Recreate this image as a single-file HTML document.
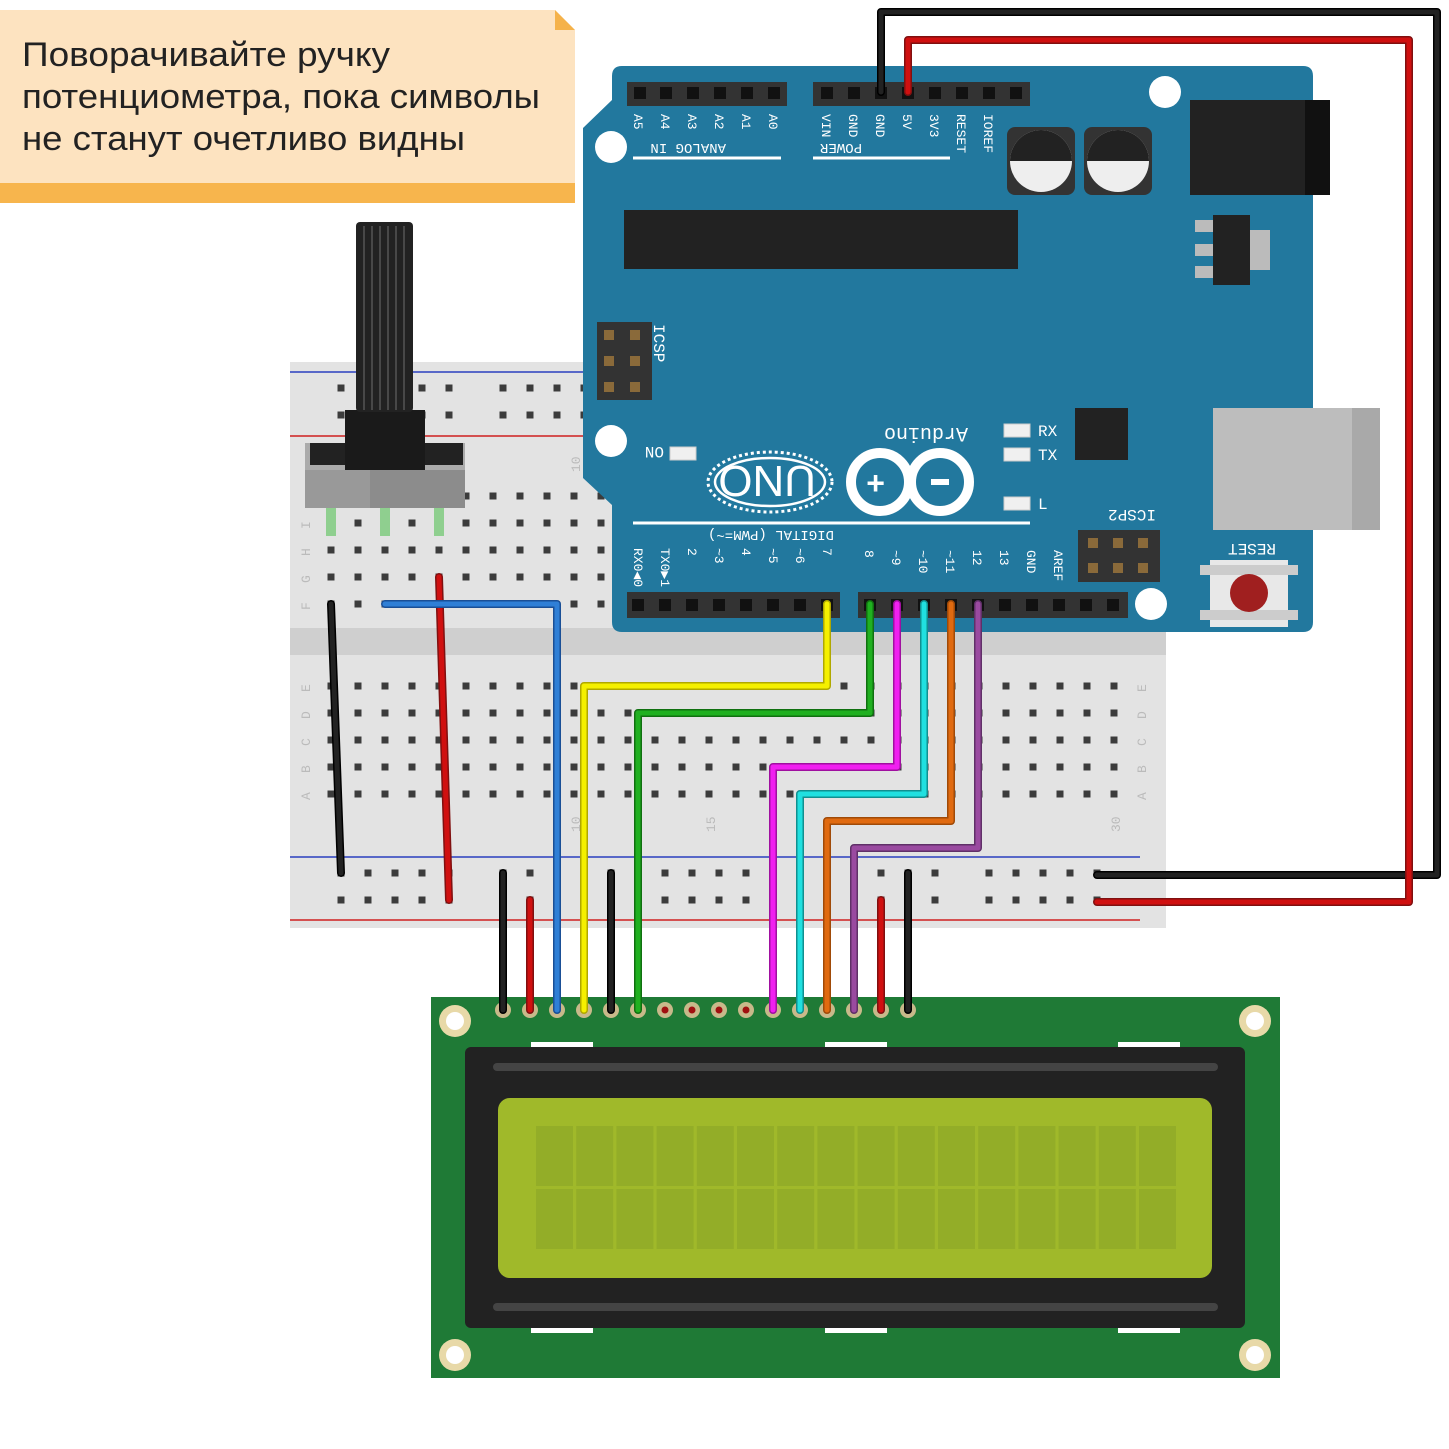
<!DOCTYPE html>
<html><head><meta charset="utf-8"><style>
html,body{margin:0;padding:0;background:#fff;width:1449px;height:1449px;overflow:hidden}
svg{display:block}
text{font-family:"Liberation Mono",monospace}
.n{font-family:"Liberation Sans","DejaVu Sans",sans-serif}
</style></head><body>
<svg id="s" width="1449" height="1449" viewBox="0 0 1449 1449" xmlns="http://www.w3.org/2000/svg">
<!-- note -->
<polygon points="0,10 555,10 575,30 575,203 0,203" fill="#fde3c0"/>
<polygon points="555,10 575,30 555,30" fill="#f5b24a"/>
<rect x="0" y="183" width="575" height="20" fill="#f7b54d"/>
<text class="n" x="22" y="66" font-size="34" fill="#222" textLength="368" lengthAdjust="spacingAndGlyphs">Поворачивайте ручку</text>
<text class="n" x="22" y="108" font-size="34" fill="#222" textLength="518" lengthAdjust="spacingAndGlyphs">потенциометра, пока символы</text>
<text class="n" x="22" y="150" font-size="34" fill="#222" textLength="443" lengthAdjust="spacingAndGlyphs">не станут очетливо видны</text>

<!-- breadboard -->
<rect x="290" y="362" width="876" height="566" fill="#e3e3e3"/>
<rect x="290" y="628" width="876" height="27" fill="#cfcfcf"/>
<line x1="290" y1="372" x2="1166" y2="372" stroke="#2a3fbf" stroke-width="1.5"/>
<line x1="290" y1="436" x2="1166" y2="436" stroke="#d02020" stroke-width="1.5"/>
<line x1="290" y1="857" x2="1140" y2="857" stroke="#2a3fbf" stroke-width="1.5"/>
<line x1="290" y1="920" x2="1140" y2="920" stroke="#d02020" stroke-width="1.5"/>
<g id="holes"></g>
<g font-size="13" fill="#bbb" class="n">
<text x="300" y="690" transform="rotate(-90 306 686)">E</text>
<text x="300" y="717" transform="rotate(-90 306 713)">D</text>
<text x="300" y="744" transform="rotate(-90 306 740)">C</text>
<text x="300" y="771" transform="rotate(-90 306 767)">B</text>
<text x="300" y="798" transform="rotate(-90 306 794)">A</text>
<text x="1136" y="690" transform="rotate(-90 1142 686)">E</text>
<text x="1136" y="717" transform="rotate(-90 1142 713)">D</text>
<text x="1136" y="744" transform="rotate(-90 1142 740)">C</text>
<text x="1136" y="771" transform="rotate(-90 1142 767)">B</text>
<text x="1136" y="798" transform="rotate(-90 1142 794)">A</text>
<text x="300" y="527" transform="rotate(-90 306 523)">I</text>
<text x="300" y="554" transform="rotate(-90 306 550)">H</text>
<text x="300" y="581" transform="rotate(-90 306 577)">G</text>
<text x="300" y="608" transform="rotate(-90 306 604)">F</text>
<text x="570" y="830" transform="rotate(-90 576 826)">10</text>
<text x="705" y="830" transform="rotate(-90 711 826)">15</text>
<text x="1110" y="830" transform="rotate(-90 1116 826)">30</text>
<text x="570" y="470" transform="rotate(-90 576 466)">10</text>
</g>

<!-- arduino -->
<path d="M622,66 H1303 Q1313,66 1313,76 V622 Q1313,632 1303,632 H622 Q612,632 612,622 V505 L583,478 V128 L612,100 V76 Q612,66 622,66 Z" fill="#22789e"/>
<rect x="627" y="82" width="160" height="24" fill="#333"/>
<rect x="813" y="82" width="217" height="24" fill="#333"/>
<rect x="627" y="592" width="213" height="26" fill="#333"/>
<rect x="858" y="592" width="270" height="26" fill="#333"/>
<g id="pins"></g>
<line x1="633" y1="158" x2="781" y2="158" stroke="#fff" stroke-width="3"/>
<line x1="813" y1="158" x2="950" y2="158" stroke="#fff" stroke-width="3"/>
<line x1="633" y1="523" x2="1030" y2="523" stroke="#fff" stroke-width="3"/>
<g fill="#fff" font-size="14">
<text x="634" y="152" transform="rotate(180 680 148)">ANALOG IN</text>
<text x="814" y="152" transform="rotate(180 838 148)">POWER</text>
<text x="690" y="541" transform="rotate(180 762 536)">DIGITAL (PWM=~)</text>
</g>
<g fill="#fff" font-size="13" id="plab"></g>
<circle cx="611" cy="147" r="16" fill="#fff"/>
<circle cx="1165" cy="92" r="16" fill="#fff"/>
<circle cx="611" cy="441" r="16" fill="#fff"/>
<circle cx="1151" cy="604" r="16" fill="#fff"/>
<rect x="624" y="210" width="394" height="59" fill="#222"/>
<rect x="1007" y="127" width="68" height="68" rx="8" fill="#333"/>
<circle cx="1041" cy="161" r="31" fill="#eee"/>
<path d="M1010,161 A31,31 0 0 1 1072,161 Z" fill="#222"/>
<rect x="1084" y="127" width="68" height="68" rx="8" fill="#333"/>
<circle cx="1118" cy="161" r="31" fill="#eee"/>
<path d="M1087,161 A31,31 0 0 1 1149,161 Z" fill="#222"/>
<rect x="1190" y="100" width="140" height="95" fill="#222"/>
<rect x="1305" y="100" width="25" height="95" fill="#111"/>
<rect x="1250" y="230" width="20" height="40" fill="#bbb"/>
<rect x="1195" y="220" width="20" height="12" fill="#bbb"/>
<rect x="1195" y="244" width="20" height="12" fill="#bbb"/>
<rect x="1195" y="266" width="20" height="12" fill="#bbb"/>
<rect x="1213" y="215" width="37" height="70" fill="#222"/>
<rect x="1213" y="408" width="167" height="122" fill="#bdbdbd"/>
<rect x="1352" y="408" width="28" height="122" fill="#a9a9a9"/>
<rect x="1075" y="408" width="53" height="52" fill="#222"/>
<rect x="1210" y="560" width="78" height="67" fill="#e8e8e8"/>
<rect x="1200" y="565" width="98" height="10" fill="#ccc"/>
<rect x="1200" y="610" width="98" height="10" fill="#ccc"/>
<circle cx="1249" cy="593" r="19" fill="#a01f1f"/>
<rect x="1078" y="530" width="82" height="52" fill="#333"/>
<rect x="597" y="322" width="55" height="78" fill="#333"/>
<g fill="#8a6a3a"><rect x="1088" y="538" width="10" height="10"/><rect x="1113" y="538" width="10" height="10"/><rect x="1138" y="538" width="10" height="10"/><rect x="1088" y="563" width="10" height="10"/><rect x="1113" y="563" width="10" height="10"/><rect x="1138" y="563" width="10" height="10"/>
<rect x="604" y="330" width="10" height="10"/><rect x="630" y="330" width="10" height="10"/><rect x="604" y="356" width="10" height="10"/><rect x="630" y="356" width="10" height="10"/><rect x="604" y="382" width="10" height="10"/><rect x="630" y="382" width="10" height="10"/></g>
<g fill="#f0f0f0" stroke="#ccc"><rect x="1004" y="424" width="26" height="13"/><rect x="1004" y="448" width="26" height="13"/><rect x="1004" y="497" width="26" height="13"/><rect x="670" y="447" width="26" height="13"/></g>
<g fill="#fff" font-size="16">
<text x="1038" y="436">RX</text><text x="1038" y="460">TX</text><text x="1038" y="509">L</text>
<text x="640" y="459" transform="rotate(180 652 453)">ON</text>
<text x="1100" y="522" transform="rotate(180 1128 516)">ICSP2</text>
<text x="1220" y="556" transform="rotate(180 1248 550)">RESET</text>
<text x="856" y="440" transform="rotate(180 912 434)" font-size="20">Arduino</text>
<text x="654" y="324" transform="rotate(90 654 324)">ICSP</text>
</g>
<ellipse cx="770" cy="482" rx="62" ry="30" fill="none" stroke="#fff" stroke-width="3" stroke-dasharray="3 3"/>
<ellipse cx="770" cy="482" rx="55" ry="24" fill="none" stroke="#fff" stroke-width="2.5"/>
<text x="724" y="498" fill="#fff" font-size="44" class="n" transform="rotate(180 770 482)">UNO</text>
<circle cx="880" cy="482" r="29" fill="none" stroke="#fff" stroke-width="10"/>
<circle cx="940" cy="482" r="29" fill="none" stroke="#fff" stroke-width="10"/>
<text x="866" y="494" fill="#fff" font-size="32" font-weight="bold">+</text>
<rect x="931" y="479" width="18" height="6" fill="#fff"/>

<!-- pot -->
<rect x="305" y="443" width="160" height="65" fill="#ababab"/>
<rect x="305" y="470" width="160" height="38" fill="#999"/>
<rect x="370" y="470" width="95" height="38" fill="#8c8c8c"/>
<rect x="310" y="443" width="35" height="22" fill="#222"/>
<rect x="425" y="443" width="38" height="22" fill="#222"/>
<rect x="345" y="410" width="80" height="60" fill="#1a1a1a"/>
<rect x="356" y="222" width="57" height="190" rx="4" fill="#222"/>
<g stroke="#555" stroke-width="1.5"><line x1="364" y1="226" x2="364" y2="410"/><line x1="372" y1="226" x2="372" y2="410"/><line x1="380" y1="226" x2="380" y2="410"/><line x1="388" y1="226" x2="388" y2="410"/><line x1="396" y1="226" x2="396" y2="410"/><line x1="404" y1="226" x2="404" y2="410"/></g>
<g fill="#8fcf8f"><rect x="326" y="508" width="10" height="28"/><rect x="380" y="508" width="10" height="28"/><rect x="434" y="508" width="10" height="28"/></g>

<!-- LCD -->
<rect x="431" y="997" width="849" height="381" fill="#1f7a36"/>
<g fill="#e8d9a8"><circle cx="455" cy="1021" r="16"/><circle cx="1255" cy="1021" r="16"/><circle cx="455" cy="1355" r="16"/><circle cx="1255" cy="1355" r="16"/></g>
<g fill="#fff"><circle cx="455" cy="1021" r="9"/><circle cx="1255" cy="1021" r="9"/><circle cx="455" cy="1355" r="9"/><circle cx="1255" cy="1355" r="9"/></g>
<g fill="#fff"><rect x="531" y="1042" width="62" height="5"/><rect x="825" y="1042" width="62" height="5"/><rect x="1118" y="1042" width="62" height="5"/><rect x="531" y="1328" width="62" height="5"/><rect x="825" y="1328" width="62" height="5"/><rect x="1118" y="1328" width="62" height="5"/></g>
<rect x="465" y="1047" width="780" height="281" rx="6" fill="#222"/>
<rect x="493" y="1063" width="725" height="8" rx="4" fill="#444"/>
<rect x="493" y="1303" width="725" height="8" rx="4" fill="#444"/>
<rect x="498" y="1098" width="714" height="180" rx="12" fill="#a0b92a"/>
<g id="cells"></g>
<g id="wires"></g>
</svg>
<script>
var NS="http://www.w3.org/2000/svg";
function el(p,t,a){var e=document.createElementNS(NS,t);for(var k in a)e.setAttribute(k,a[k]);document.getElementById(p).appendChild(e);return e;}
var rows=[496,523,550,577,604,686,713,740,767,794];
for(var c=0;c<30;c++){var x=331+c*27;for(var r=0;r<10;r++){var y=rows[r];
 el('holes','rect',{x:x-3.5,y:y-3.5,width:7,height:7,fill:'#3c3c3c'});}}
var gx=[341,503,665,827,989];
for(var g=0;g<5;g++)for(var i=0;i<5;i++){var x=gx[g]+i*27;
 [388,415,873,900].forEach(function(y){el('holes','rect',{x:x-3.5,y:y-3.5,width:7,height:7,fill:'#3c3c3c'});});}
[640,666,693,720,747,774].forEach(function(x){el('pins','rect',{x:x-6,y:87,width:12,height:12,fill:'#111'});});
for(var i=0;i<8;i++){var x=827+i*27;el('pins','rect',{x:x-6,y:87,width:12,height:12,fill:'#111'});}
for(var i=0;i<8;i++){var x=638+i*27;el('pins','rect',{x:x-6,y:599,width:12,height:12,fill:'#111'});}
for(var i=0;i<10;i++){var x=870+i*27;el('pins','rect',{x:x-6,y:599,width:12,height:12,fill:'#111'});}
var al=['A5','A4','A3','A2','A1','A0'];al.forEach(function(t,i){var x=634+i*27;var e=el('plab','text',{x:x,y:114,transform:'rotate(90 '+x+' 114)'});e.textContent=t;});
var pl=['VIN','GND','GND','5V','3V3','RESET','IOREF'];pl.forEach(function(t,i){var x=822+i*27;var e=el('plab','text',{x:x,y:114,transform:'rotate(90 '+x+' 114)'});e.textContent=t;});
var dl=['RX0◀0','TX0▶1','2','~3','4','~5','~6','7'];dl.forEach(function(t,i){var x=634+i*27;var e=el('plab','text',{x:x,y:532,transform:'rotate(90 '+x+' 532)'});e.textContent=t;});
var dl2=['8','~9','~10','~11','12','13','GND','AREF'];dl2.forEach(function(t,i){var x=865+i*27;var e=el('plab','text',{x:x,y:550,transform:'rotate(90 '+x+' 550)'});e.textContent=t;});
// fix digital left labels to start below DIGITAL text
Array.prototype.forEach.call(document.getElementById('plab').childNodes,function(n){});
for(var r=0;r<2;r++)for(var c=0;c<16;c++)el('cells','rect',{x:536+c*40.2,y:1126+r*63,width:37,height:60,fill:'#93ad28'});
for(var i=0;i<16;i++){var x=503+i*27;el('cells','circle',{cx:x,cy:1010,r:8,fill:'#c8b98a'});el('cells','circle',{cx:x,cy:1010,r:3.5,fill:(i>=6&&i<=9)?'#a01010':'#555'});}
function w(pts,col,dark){var d=pts.map(function(p){return p.join(',')}).join(' ');
 el('wires','polyline',{points:d,fill:'none',stroke:dark,'stroke-width':8,'stroke-linejoin':'round','stroke-linecap':'round'});
 el('wires','polyline',{points:d,fill:'none',stroke:col,'stroke-width':5,'stroke-linejoin':'round','stroke-linecap':'round'});}
var K='#222',KD='#000',R='#d01010',RD='#801010';
w([[331,604],[341,873]],K,KD);
w([[439,577],[449,900]],R,RD);
w([[385,604],[557,604],[557,1010]],'#2f7fd6','#1a4f96');
w([[827,604],[827,686],[584,686],[584,1010]],'#f5f000','#b0a800');
w([[870,604],[870,713],[638,713],[638,1010]],'#20b020','#107010');
w([[897,604],[897,767],[773,767],[773,1010]],'#f020f0','#a010a0');
w([[924,604],[924,794],[800,794],[800,1010]],'#20e0e0','#109090');
w([[951,604],[951,821],[827,821],[827,1010]],'#e06a10','#a04a08');
w([[978,604],[978,848],[854,848],[854,1010]],'#9a4aa0','#603068');
w([[503,873],[503,1010]],K,KD);w([[530,900],[530,1010]],R,RD);
w([[611,873],[611,1010]],K,KD);w([[881,900],[881,1010]],R,RD);w([[908,873],[908,1010]],K,KD);
w([[881,92],[881,12],[1437,12],[1437,875],[1097,875]],K,KD);
w([[908,92],[908,40],[1409,40],[1409,902],[1097,902]],R,RD);
// shift left digital labels lower
Array.prototype.forEach.call(document.querySelectorAll('#plab text'),function(t,i){if(i>=13&&i<21){var x=+t.getAttribute('x');t.setAttribute('y',548);t.setAttribute('transform','rotate(90 '+x+' 548)');}});
</script>
</body></html>
